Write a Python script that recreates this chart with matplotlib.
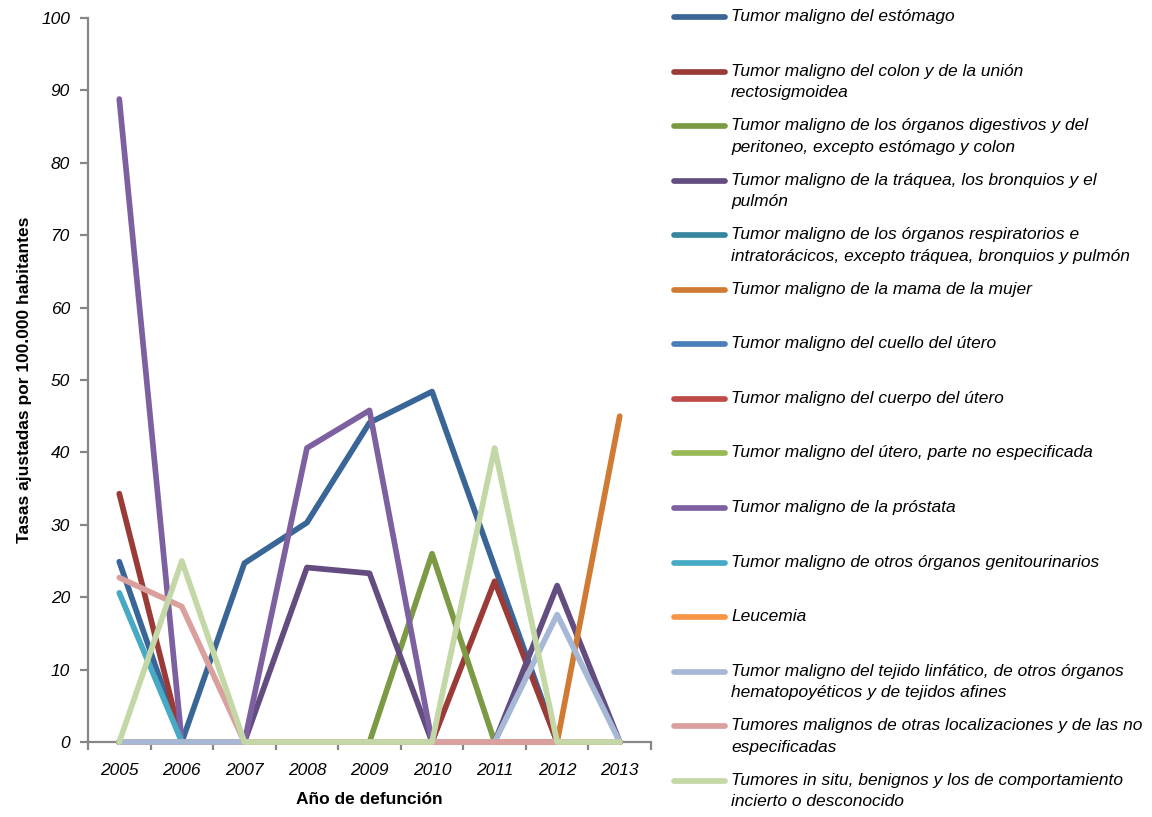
import matplotlib
matplotlib.use("Agg")
import matplotlib.pyplot as plt
from matplotlib.lines import Line2D

plt.rcParams['font.family'] = ['Liberation Sans', 'DejaVu Sans']

years = [2005, 2006, 2007, 2008, 2009, 2010, 2011, 2012, 2013]

labels = [
    "Tumor maligno del estómago",
    "Tumor maligno del colon y de la unión\nrectosigmoidea",
    "Tumor maligno de los órganos digestivos y del\nperitoneo, excepto estómago y colon",
    "Tumor maligno de la tráquea, los bronquios y el\npulmón",
    "Tumor maligno de los órganos respiratorios e\nintratorácicos, excepto tráquea, bronquios y pulmón",
    "Tumor maligno de la mama de la mujer",
    "Tumor maligno del cuello del útero",
    "Tumor maligno del cuerpo del útero",
    "Tumor maligno del útero, parte no especificada",
    "Tumor maligno de la próstata",
    "Tumor maligno de otros órganos genitourinarios",
    "Leucemia",
    "Tumor maligno del tejido linfático, de otros órganos\nhematopoyéticos y de tejidos afines",
    "Tumores malignos de otras localizaciones y de las no\nespecificadas",
    "Tumores in situ, benignos y los de comportamiento\nincierto o desconocido",
]

estomago       = [24.9, 0, 24.7, 30.3, 44.1, 48.4, 24.2, 0, 0]
colon          = [34.3, 0, 0, 0, 0, 0, 22.2, 0, 0]
digestivos     = [0, 0, 0, 0, 0, 26.0, 0, 0, 0]
traquea        = [0, 0, 0, 24.1, 23.3, 0, 0, 21.6, 0]
respiratorios  = [0, 0, 0, 0, 0, 0, 0, 0, 0]
mama           = [0, 0, 0, 0, 0, 0, 0, 0, 45.0]
cuello_utero   = [0, 0, 0, 0, 0, 0, 0, 0, 0]
cuerpo_utero   = [0, 0, 0, 0, 0, 0, 0, 0, 0]
utero_ne       = [0, 0, 0, 0, 0, 0, 0, 0, 0]
prostata       = [88.8, 0, 0, 40.6, 45.8, 0, 0, 0, 0]
genitourinario = [20.6, 0, 0, 0, 0, 0, 0, 0, 0]
leucemia       = [0, 0, 0, 0, 0, 0, 0, 0, 0]
linfatico      = [0, 0, 0, 0, 0, 0, 0, 17.6, 0]
otras_local    = [22.7, 18.7, 0, 0, 0, 0, 0, 0, 0]
in_situ        = [0, 25.0, 0, 0, 0, 0, 40.6, 0, 0]

series = [estomago, colon, digestivos, traquea, respiratorios, mama,
          cuello_utero, cuerpo_utero, utero_ne, prostata, genitourinario,
          leucemia, linfatico, otras_local, in_situ]

colors = ["#3A6597", "#9B3B38", "#7B9A43", "#624C80", "#36879D", "#CF7B33",
          "#4A7EBB", "#BE4B48", "#98B954", "#7D60A0", "#46AAC5", "#F69545",
          "#A6B8D6", "#D9A09E", "#C4D7A6"]

W, H = 1152, 817
fig = plt.figure(figsize=(W / 100, H / 100), dpi=100)
ax = fig.add_axes([88 / W, 1 - 742 / H, (651 - 88) / W, (742 - 18) / H])

lw = 4.1
for vals, c in zip(series, colors):
    ax.plot(years, vals, color=c, lw=lw, solid_capstyle='round',
            solid_joinstyle='round', clip_on=False, zorder=3)

ax.set_xlim(2004.5, 2013.5)
ax.set_ylim(0, 100)

axis_grey = "#868686"
for s in ("top", "right"):
    ax.spines[s].set_visible(False)
for s in ("left", "bottom"):
    ax.spines[s].set_color(axis_grey)
    ax.spines[s].set_linewidth(1.6)

tick_fs = 12.5
ax.set_yticks(range(0, 101, 10))
ax.set_yticklabels([str(v) for v in range(0, 101, 10)], fontstyle='italic', fontsize=tick_fs)
ax.tick_params(axis='y', direction='out', length=6, width=1.6, color=axis_grey, pad=7)

ax.set_xticks(years)
ax.set_xticklabels([str(y) for y in years], fontstyle='italic', fontsize=tick_fs)
ax.tick_params(axis='x', which='major', length=0, pad=15)
ax.set_xticks([y + 0.5 for y in [2004] + years], minor=True)
ax.tick_params(axis='x', which='minor', direction='out', length=6, width=1.6, color=axis_grey)

ax.set_xlabel("Año de defunción", fontsize=12.5, fontweight='bold', labelpad=10)
ax.set_ylabel("Tasas ajustadas por 100.000 habitantes", fontsize=12.5, fontweight='bold')
ax.yaxis.set_label_coords(-0.100, 0.5)

# legend drawn as a fixed-pitch column on the right
row0, pitch = 17, 54.55
for i, (lab, c) in enumerate(zip(labels, colors)):
    yp = row0 + i * pitch
    fig.add_artist(Line2D([674 / W, 725 / W], [1 - yp / H] * 2, transform=fig.transFigure,
                          color=c, lw=lw, solid_capstyle='round'))
    fig.text(731 / W, 1 - (yp - 8) / H, lab, fontsize=12.5, fontstyle='italic',
             va='top', ha='left', linespacing=1.55)

fig.savefig("out.png", dpi=100)
